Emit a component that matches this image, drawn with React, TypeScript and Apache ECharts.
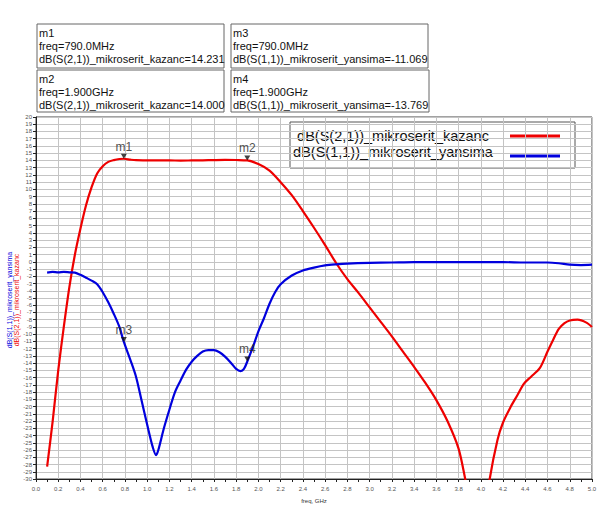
import React, { useEffect, useRef } from "react";
import * as echarts from "echarts";

// ---- data ----
const kazancFreq = [0.1, 0.15, 0.2, 0.25, 0.3, 0.35, 0.4, 0.45, 0.5, 0.55, 0.6, 0.65, 0.7, 0.75, 0.79, 0.85, 0.9, 1.0, 1.1, 1.2, 1.3, 1.4, 1.5, 1.6, 1.7, 1.8, 1.9, 2.0, 2.1, 2.2, 2.3, 2.4, 2.5, 2.6, 2.7, 2.8, 2.9, 3.0, 3.1, 3.2, 3.3, 3.4, 3.5, 3.6, 3.7, 3.8, 3.86, 3.9, 3.95, 4.0, 4.05, 4.08, 4.15, 4.2, 4.27, 4.33, 4.39, 4.45, 4.53, 4.6, 4.65, 4.7, 4.75, 4.8, 4.87, 4.95, 5.0];
const kazanc = [-28.3, -22.0, -15.0, -9.0, -3.5, 1.0, 4.6, 7.8, 10.3, 12.2, 13.2, 13.8, 14.05, 14.2, 14.231, 14.1, 14.03, 14.02, 14.0, 14.0, 13.98, 14.0, 14.02, 14.05, 14.07, 14.06, 14.0, 13.5, 12.6, 11.0, 9.2, 7.0, 4.7, 2.3, -0.2, -2.4, -4.3, -6.3, -8.3, -10.3, -12.4, -14.5, -16.7, -19.1, -22.0, -25.8, -30, -33, -37, -40, -34, -30, -24.6, -22.2, -20, -18.4, -16.8, -15.9, -14.7, -12.4, -10.8, -9.3, -8.5, -8.1, -8.0, -8.4, -9.0];

const yansimaFreq = [0.1, 0.15, 0.2, 0.25, 0.3, 0.35, 0.4, 0.45, 0.5, 0.55, 0.6, 0.65, 0.7, 0.75, 0.79, 0.85, 0.9, 0.95, 1.0, 1.05, 1.08, 1.1, 1.15, 1.2, 1.25, 1.3, 1.35, 1.4, 1.45, 1.5, 1.55, 1.6, 1.65, 1.7, 1.75, 1.8, 1.84, 1.87, 1.9, 1.95, 2.0, 2.05, 2.1, 2.15, 2.2, 2.3, 2.4, 2.5, 2.6, 2.7, 2.8, 3.0, 3.2, 3.4, 3.6, 3.8, 4.0, 4.2, 4.4, 4.6, 4.7, 4.8, 4.9, 5.0];
const yansima = [-1.5, -1.4, -1.45, -1.4, -1.45, -1.5, -1.8, -2.2, -2.6, -3.1, -4.2, -5.6, -7.2, -9.0, -11.069, -13.6, -15.9, -19.2, -22.5, -25.6, -26.7, -26.0, -23.0, -20.4, -18.0, -16.4, -14.9, -13.8, -13.0, -12.4, -12.2, -12.2, -12.5, -13.1, -13.9, -14.8, -15.1, -14.8, -13.769, -11.8, -9.6, -7.8, -5.8, -4.2, -3.1, -1.9, -1.2, -0.8, -0.5, -0.35, -0.25, -0.15, -0.1, -0.05, -0.05, -0.05, -0.05, -0.05, -0.1, -0.1, -0.2, -0.4, -0.45, -0.4];

const markerNames = ["m1", "m2", "m3", "m4"];
const markerFreq = [0.79, 1.9, 0.79, 1.9];
const markerValue = [14.231, 14.0, -11.069, -13.769];
const markerFreqText = ["790.0MHz", "1.900GHz", "790.0MHz", "1.900GHz"];
const markerSeriesName = [
  "dB(S(2,1))_mikroserit_kazanc",
  "dB(S(2,1))_mikroserit_kazanc",
  "dB(S(1,1))_mikroserit_yansima",
  "dB(S(1,1))_mikroserit_yansima",
];
const markerValueText = ["14.231", "14.000", "-11.069", "-13.769"];

const seriesNames = ["dB(S(2,1))_mikroserit_kazanc", "dB(S(1,1))_mikroserit_yansima"];
const seriesColors = ["#ee0000", "#0000dd"];

const xMin = 0;
const xMax = 5;
const yMin = -30;
const yMax = 20;

export default function App() {
  const ref = useRef<HTMLDivElement>(null);

  useEffect(() => {
    if (!ref.current) return;
    const chart = echarts.init(ref.current, null, { renderer: "svg" });

    const boxes = [
      { x: 37, y: 24, w: 187, h: 44 },
      { x: 37, y: 70, w: 187, h: 42 },
      { x: 231, y: 24, w: 197, h: 44 },
      { x: 231, y: 70, w: 198, h: 42 },
    ];
    const markerGraphics: any[] = [];
    boxes.forEach((b, i) => {
      markerGraphics.push({
        type: "rect",
        shape: { x: b.x, y: b.y, width: b.w, height: b.h },
        style: { fill: "#fff", stroke: "#666", lineWidth: 1 },
      });
      markerGraphics.push({
        type: "text",
        x: b.x + 2,
        y: b.y + 2,
        style: {
          text: `${markerNames[i]}\nfreq=${markerFreqText[i]}\n${markerSeriesName[i]}=${markerValueText[i]}`,
          font: "11px 'Liberation Sans', Arial, sans-serif",
          fill: "#111",
          lineHeight: 13,
          verticalAlign: "top",
        },
      });
    });

    const legendGraphics: any[] = [
      {
        type: "rect",
        shape: { x: 290, y: 122, width: 285, height: 46 },
        style: { fill: "#fff", stroke: "#555", lineWidth: 1 },
      },
      {
        type: "text",
        x: 393,
        y: 136,
        style: {
          text: seriesNames[0],
          font: "14.5px 'Liberation Sans', Arial, sans-serif",
          fill: "#111",
          align: "center",
          verticalAlign: "middle",
        },
      },
      {
        type: "text",
        x: 393,
        y: 152,
        style: {
          text: seriesNames[1],
          font: "14.5px 'Liberation Sans', Arial, sans-serif",
          fill: "#111",
          align: "center",
          verticalAlign: "middle",
        },
      },
      {
        type: "line",
        shape: { x1: 510, y1: 136, x2: 560, y2: 136 },
        style: { stroke: seriesColors[0], lineWidth: 3 },
      },
      {
        type: "line",
        shape: { x1: 510, y1: 156, x2: 560, y2: 156 },
        style: { stroke: seriesColors[1], lineWidth: 3 },
      },
    ];

    const yTitle = {
      type: "text",
      x: 13,
      y: 300,
      rotation: Math.PI / 2,
      style: {
        text: "{b|" + seriesNames[1] + "}\n{r|" + seriesNames[0] + "}",
        align: "center",
        verticalAlign: "middle",
        rich: {
          b: { fontSize: 7, fill: "#0000dd", lineHeight: 7, align: "center" },
          r: { fontSize: 7, fill: "#ee0000", lineHeight: 7, align: "center" },
        },
      },
    };

    const option: any = {
      animation: false,
      backgroundColor: "#fff",
      textStyle: { fontFamily: "'Liberation Sans', Arial, sans-serif" },
      grid: {
        left: 36,
        right: 11,
        top: 117,
        bottom: 36,
        containLabel: false,
        outerBoundsMode: "none",
        show: true,
        borderColor: "#444",
        borderWidth: 1,
        backgroundColor: "#fff",
      },
      xAxis: {
        type: "value",
        min: xMin,
        max: xMax,
        interval: 0.2,
        name: "freq, GHz",
        nameLocation: "middle",
        nameGap: 19,
        nameTextStyle: { fontSize: 6, color: "#333" },
        axisLine: { onZero: false, lineStyle: { color: "#222", width: 1 } },
        axisTick: { show: true, length: 3, lineStyle: { color: "#222" } },
        minorTick: { show: true, splitNumber: 2, length: 3, lineStyle: { color: "#222" } },
        axisLabel: {
          fontSize: 6,
          color: "#555",
          margin: 7,
          formatter: (v: number) => v.toFixed(1),
        },
        splitLine: { show: true, lineStyle: { color: "#c4c4c4", width: 1 } },
      },
      yAxis: {
        type: "value",
        min: yMin,
        max: yMax,
        interval: 1,
        axisLine: { show: true, onZero: false, lineStyle: { color: "#222", width: 1 } },
        axisTick: { show: true, length: 3, lineStyle: { color: "#222" } },
        axisLabel: { fontSize: 6, color: "#555", margin: 4 },
        splitLine: { show: true, lineStyle: { color: "#c4c4c4", width: 1 } },
      },
      series: [
        {
          name: seriesNames[0],
          type: "line",
          data: kazancFreq.map((f, i) => [f, kazanc[i]]),
          showSymbol: false,
          smooth: 0.3,
          clip: true,
          lineStyle: { color: seriesColors[0], width: 2.2 },
          z: 3,
        },
        {
          name: seriesNames[1],
          type: "line",
          data: yansimaFreq.map((f, i) => [f, yansima[i]]),
          showSymbol: false,
          smooth: 0.3,
          clip: true,
          lineStyle: { color: seriesColors[1], width: 2.2 },
          z: 4,
        },
        {
          name: "markers",
          type: "scatter",
          data: markerNames.map((n, i) => ({ name: n, value: [markerFreq[i], markerValue[i]] })),
          symbol: "triangle",
          symbolSize: [6, 5],
          symbolRotate: 180,
          symbolOffset: [0, -2.5],
          itemStyle: { color: "#111" },
          label: {
            show: true,
            position: "top",
            distance: 1,
            formatter: (p: any) => p.name,
            fontSize: 12,
            color: "#222",
          },
          z: 6,
        },
      ],
      graphic: [...markerGraphics, ...legendGraphics, yTitle],
    };

    chart.setOption(option);
    return () => chart.dispose();
  }, []);

  return (
    <div
      ref={ref}
      style={{ position: "fixed", left: 0, top: 0, width: 603, height: 515 }}
    />
  );
}
